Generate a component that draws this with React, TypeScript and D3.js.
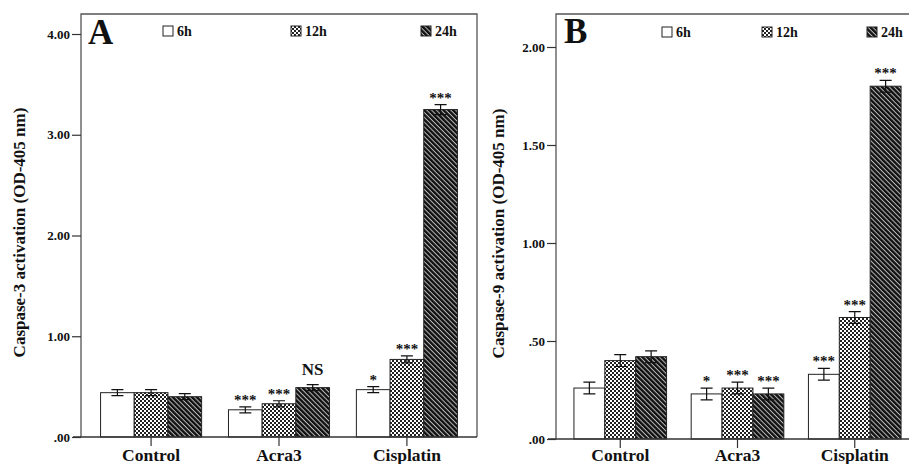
import React, { useEffect, useRef } from "react";
import * as d3 from "d3";

// categories and series
const categories = ["Control", "Acra3", "Cisplatin"];
const series = ["6h", "12h", "24h"];

// Panel A: caspase-3 (OD-405 nm)
const casp3Mean6h = [0.44, 0.27, 0.47];
const casp3Mean12h = [0.44, 0.33, 0.77];
const casp3Mean24h = [0.4, 0.49, 3.25];
const casp3Err6h = [0.03, 0.03, 0.03];
const casp3Err12h = [0.03, 0.03, 0.035];
const casp3Err24h = [0.03, 0.03, 0.05];
const casp3Sig6h = ["", "***", "*"];
const casp3Sig12h = ["", "***", "***"];
const casp3Sig24h = ["", "NS", "***"];
const casp3Ticks = [0, 1, 2, 3, 4];
const casp3TickLabels = [".00", "1.00", "2.00", "3.00", "4.00"];

// Panel B: caspase-9 (OD-405 nm)
const casp9Mean6h = [0.26, 0.23, 0.33];
const casp9Mean12h = [0.4, 0.26, 0.62];
const casp9Mean24h = [0.42, 0.23, 1.8];
const casp9Err6h = [0.03, 0.03, 0.03];
const casp9Err12h = [0.03, 0.03, 0.03];
const casp9Err24h = [0.03, 0.03, 0.03];
const casp9Sig6h = ["", "*", "***"];
const casp9Sig12h = ["", "***", "***"];
const casp9Sig24h = ["", "***", "***"];
const casp9Ticks = [0, 0.5, 1, 1.5, 2];
const casp9TickLabels = [".00", ".50", "1.00", "1.50", "2.00"];

const FONT = "'Liberation Serif', 'Times New Roman', serif";
const fills = ["#fff", "url(#checker)", "url(#stripes)"];

const buildRows = (means, errs, sigs) =>
  categories.flatMap((c, ci) =>
    series.map((s, si) => ({
      cat: c,
      ser: s,
      value: means[si][ci],
      err: errs[si][ci],
      sig: sigs[si][ci],
    }))
  );

const panels = [
  {
    letter: "A",
    letterX: 88,
    letterY: 44,
    xRange: [81, 477],
    frameRight: 477,
    yDomain: [0, 4],
    yRange: [437, 34],
    ticks: casp3Ticks,
    tickLabels: casp3TickLabels,
    yLabel: "Caspase-3 activation (OD-405 nm)",
    yLabelX: 25,
    legendX: [163, 291, 421],
    legendY: 36,
    rows: buildRows(
      [casp3Mean6h, casp3Mean12h, casp3Mean24h],
      [casp3Err6h, casp3Err12h, casp3Err24h],
      [casp3Sig6h, casp3Sig12h, casp3Sig24h]
    ),
  },
  {
    letter: "B",
    letterX: 564,
    letterY: 43,
    xRange: [556, 919],
    frameRight: 919,
    yDomain: [0, 2],
    yRange: [439, 47],
    ticks: casp9Ticks,
    tickLabels: casp9TickLabels,
    yLabel: "Caspase-9 activation (OD-405 nm)",
    yLabelX: 504,
    legendX: [662, 762, 867],
    legendY: 37,
    rows: buildRows(
      [casp9Mean6h, casp9Mean12h, casp9Mean24h],
      [casp9Err6h, casp9Err12h, casp9Err24h],
      [casp9Sig6h, casp9Sig12h, casp9Sig24h]
    ),
  },
];

const App = () => {
  const ref = useRef(null);
  const width = 909;
  const height = 464;
  const frameTop = 14;
  const labelBaseline = 461;

  useEffect(() => {
    const svg = d3.select(ref.current);
    svg.selectAll("*").remove();

    // patterns
    const defs = svg.append("defs");
    const checker = defs
      .append("pattern")
      .attr("id", "checker")
      .attr("patternUnits", "userSpaceOnUse")
      .attr("width", 4)
      .attr("height", 4);
    checker.append("rect").attr("width", 4).attr("height", 4).attr("fill", "#fff");
    checker.append("rect").attr("width", 2).attr("height", 2).attr("fill", "#222");
    checker.append("rect").attr("x", 2).attr("y", 2).attr("width", 2).attr("height", 2).attr("fill", "#222");

    const stripes = defs
      .append("pattern")
      .attr("id", "stripes")
      .attr("patternUnits", "userSpaceOnUse")
      .attr("width", 3.4)
      .attr("height", 10)
      .attr("patternTransform", "rotate(-45)");
    stripes.append("rect").attr("width", 3.4).attr("height", 10).attr("fill", "#bbb");
    stripes.append("rect").attr("width", 2.4).attr("height", 10).attr("fill", "#111");

    panels.forEach((p) => {
      const g = svg.append("g");

      const x0 = d3
        .scaleBand()
        .domain(categories)
        .range(p.xRange)
        .paddingInner(0.21)
        .paddingOuter(0.153);
      const x1 = d3.scaleBand().domain(series).range([0, x0.bandwidth()]);
      const y = d3.scaleLinear().domain(p.yDomain).range(p.yRange);
      const y0 = y(0);

      // frame
      g.append("path")
        .attr("d", `M${p.xRange[0]},${y0}V${frameTop}H${p.frameRight}V${y0}`)
        .attr("fill", "none")
        .attr("stroke", "#555")
        .attr("stroke-width", 1.3);

      // y axis ticks
      const yAxis = g
        .append("g")
        .attr("transform", `translate(${p.xRange[0]},0)`)
        .call(
          d3
            .axisLeft(y)
            .tickValues(p.ticks)
            .tickSize(9)
            .tickPadding(2)
            .tickFormat((d, i) => p.tickLabels[i])
        );
      yAxis.select(".domain").remove();
      yAxis.selectAll("line").attr("stroke", "#333").attr("stroke-width", 1.2);
      yAxis
        .selectAll("text")
        .attr("font-family", FONT)
        .attr("font-weight", "bold")
        .attr("font-size", 13)
        .attr("fill", "#111");

      // bars
      g.selectAll(".bar")
        .data(p.rows)
        .join("rect")
        .attr("x", (d) => x0(d.cat) + x1(d.ser))
        .attr("y", (d) => y(d.value))
        .attr("width", x1.bandwidth())
        .attr("height", (d) => y0 - y(d.value))
        .attr("fill", (d) => fills[series.indexOf(d.ser)])
        .attr("stroke", "#222")
        .attr("stroke-width", 1);

      // error bars
      const cap = 6;
      const eb = g
        .selectAll(".err")
        .data(p.rows)
        .join("g")
        .attr("transform", (d) => `translate(${x0(d.cat) + x1(d.ser) + x1.bandwidth() / 2},0)`);
      eb.append("path")
        .attr(
          "d",
          (d) =>
            `M0,${y(d.value - d.err)}V${y(d.value + d.err)}` +
            `M${-cap},${y(d.value + d.err)}H${cap}` +
            `M${-cap},${y(d.value - d.err)}H${cap}`
        )
        .attr("fill", "none")
        .attr("stroke", "#111")
        .attr("stroke-width", 1.2);

      // significance labels
      g.selectAll(".sig")
        .data(p.rows.filter((d) => d.sig))
        .join("text")
        .attr("x", (d) => x0(d.cat) + x1(d.ser) + x1.bandwidth() / 2)
        .attr("y", (d) => y(d.value + d.err) - (d.sig === "NS" ? 10 : 2))
        .attr("text-anchor", "middle")
        .attr("font-family", FONT)
        .attr("font-weight", "bold")
        .attr("font-size", (d) => (d.sig === "NS" ? 17 : 15))
        .attr("fill", "#111")
        .text((d) => d.sig);

      // x axis
      const xAxis = g
        .append("g")
        .attr("transform", `translate(0,${y0})`)
        .call(d3.axisBottom(x0).tickSize(9).tickSizeOuter(0));
      xAxis.select(".domain").remove();
      xAxis.selectAll("line").attr("stroke", "#333").attr("stroke-width", 1.2);
      xAxis
        .selectAll("text")
        .attr("dy", null)
        .attr("y", labelBaseline - y0)
        .attr("font-family", FONT)
        .attr("font-weight", "bold")
        .attr("font-size", 17.5)
        .attr("fill", "#111");
      g.append("line")
        .attr("x1", p.xRange[0] - 8)
        .attr("x2", p.frameRight)
        .attr("y1", y0)
        .attr("y2", y0)
        .attr("stroke", "#333")
        .attr("stroke-width", 1.3);

      // y label
      g.append("text")
        .attr("transform", `translate(${p.yLabelX},${(y0 + frameTop) / 2 + 7}) rotate(-90)`)
        .attr("text-anchor", "middle")
        .attr("font-family", FONT)
        .attr("font-weight", "bold")
        .attr("font-size", 17)
        .attr("fill", "#111")
        .text(p.yLabel);

      // panel letter
      g.append("text")
        .attr("x", p.letterX)
        .attr("y", p.letterY)
        .attr("font-family", FONT)
        .attr("font-weight", "bold")
        .attr("font-size", 35)
        .attr("fill", "#111")
        .text(p.letter);

      // legend
      series.forEach((s, i) => {
        g.append("rect")
          .attr("x", p.legendX[i])
          .attr("y", p.legendY - 10)
          .attr("width", 10)
          .attr("height", 10)
          .attr("fill", fills[i])
          .attr("stroke", "#222")
          .attr("stroke-width", 1);
        g.append("text")
          .attr("x", p.legendX[i] + 14)
          .attr("y", p.legendY)
          .attr("font-family", FONT)
          .attr("font-weight", "bold")
          .attr("font-size", 14)
          .attr("fill", "#111")
          .text(s);
      });
    });
  }, []);

  return (
    <svg
      ref={ref}
      width={width}
      height={height}
      style={{ position: "absolute", left: 0, top: 0, background: "#fff" }}
    ></svg>
  );
};

export default App;
